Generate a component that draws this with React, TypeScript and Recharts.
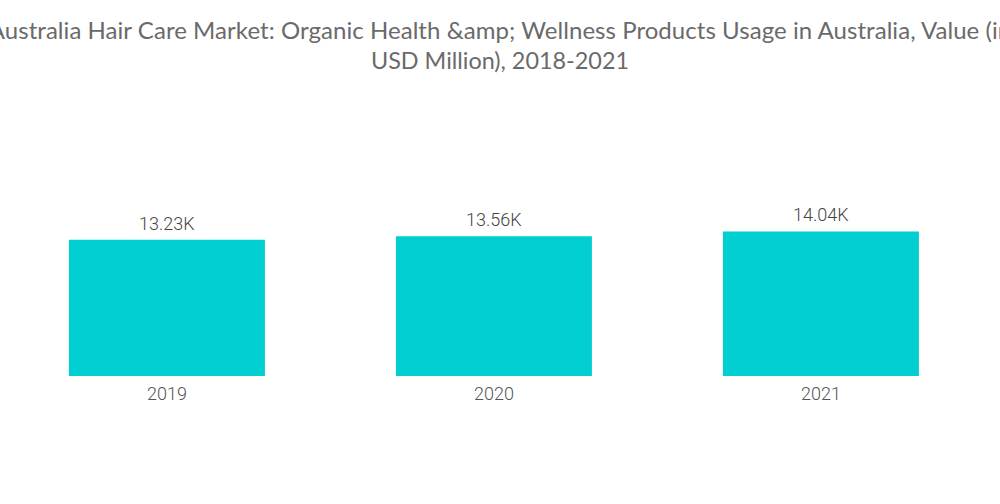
import React from "react";
import { BarChart, Bar, XAxis, YAxis, LabelList } from "recharts";

const years = ["2019", "2020", "2021"];
const values = [13230, 13560, 14040];
const titleLine1 = "Australia Hair Care Market: Organic Health &amp; Wellness Products Usage in Australia, Value (in";
const titleLine2 = "USD Million), 2018-2021";

const data = years.map((y, i) => ({ year: y, value: values[i] }));

const fmt = (v: number) => (v / 1000).toFixed(2) + "K";

export default function App() {
  return (
    <div style={{ position: "absolute", left: 0, top: 0, width: 1000, height: 504, background: "#fff", overflow: "hidden" }}>
      <svg width={1000} height={90} style={{ position: "absolute", left: 0, top: 0, overflow: "visible" }}>
        <text x={500} y={39} textAnchor="middle" fontFamily="Lato, sans-serif" fontSize={24} letterSpacing={0.05} fill="#6a6a6a">{titleLine1}</text>
        <text x={500} y={69} textAnchor="middle" fontFamily="Lato, sans-serif" fontSize={23.4} fill="#6a6a6a">{titleLine2}</text>
      </svg>
      <div style={{ position: "absolute", left: 0, top: 0 }}>
        <BarChart width={1000} height={504} data={data} margin={{ top: 170, right: 15.5, left: 3.5, bottom: 98 }} barCategoryGap="20%">
          <XAxis dataKey="year" axisLine={false} tickLine={false} tickSize={0} tickMargin={11} height={30}
            tick={{ fill: "#555", fontSize: 18, fontFamily: "Roboto, sans-serif", fontWeight: 300 }} />
          <YAxis hide domain={[0, 20000]} />
          <Bar dataKey="value" fill="#00CED1" isAnimationActive={false}>
            <LabelList dataKey="value" position="top" offset={10} formatter={fmt}
              style={{ fill: "#444", fontSize: 18, fontFamily: "Roboto, sans-serif", fontWeight: 300 }} />
          </Bar>
        </BarChart>
      </div>
    </div>
  );
}
